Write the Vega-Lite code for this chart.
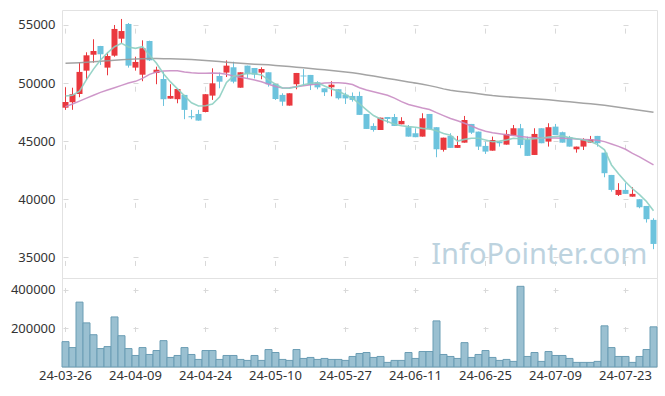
{
"$schema": "https://vega.github.io/schema/vega-lite/v6.json",
"padding": {"left": 5, "top": 9, "right": 9, "bottom": 0},
"spacing": 0,
"bounds": "flush",
"config": {"view": {"stroke": "#e2e2e2"}, "font": "Noto Sans", "axis": {"labelFont": "Noto Sans", "labelFontSize": 13, "labelColor": "#333333", "gridColor": "#d9d9d9"}},
"datasets": {"k": [
{"d":"24-03-26","o":47880,"c":48370,"h":49640,"l":47690,"v":131600,"m5":48890,"m20":47970,"m60":51700},
{"d":"24-03-27","o":48350,"c":49040,"h":49600,"l":47700,"v":100900,"m5":48950,"m20":48200,"m60":51730},
{"d":"24-03-28","o":49060,"c":50960,"h":51790,"l":48780,"v":336800,"m5":49300,"m20":48450,"m60":51760},
{"d":"24-03-29","o":51070,"c":52390,"h":52650,"l":50270,"v":229000,"m5":50300,"m20":48700,"m60":51800},
{"d":"24-04-01","o":52440,"c":52760,"h":53770,"l":51760,"v":167500,"m5":51200,"m20":48950,"m60":51840},
{"d":"24-04-02","o":53190,"c":52480,"h":53200,"l":51560,"v":95700,"m5":51990,"m20":49200,"m60":51880},
{"d":"24-04-03","o":51330,"c":52330,"h":52650,"l":50670,"v":106000,"m5":52600,"m20":49400,"m60":51920},
{"d":"24-04-04","o":52360,"c":54660,"h":55000,"l":52270,"v":259800,"m5":53130,"m20":49600,"m60":51960},
{"d":"24-04-05","o":53820,"c":54480,"h":55520,"l":53430,"v":162400,"m5":53420,"m20":49800,"m60":52000},
{"d":"24-04-08","o":55090,"c":51500,"h":55170,"l":51330,"v":95700,"m5":53100,"m20":50000,"m60":52040},
{"d":"24-04-09","o":51330,"c":51820,"h":52270,"l":51070,"v":59800,"m5":52990,"m20":50150,"m60":52070},
{"d":"24-04-11","o":50720,"c":53000,"h":53680,"l":50160,"v":100900,"m5":53130,"m20":50400,"m60":52100},
{"d":"24-04-12","o":53620,"c":51960,"h":53650,"l":51900,"v":65000,"m5":52400,"m20":50750,"m60":52110},
{"d":"24-04-15","o":50870,"c":51150,"h":51410,"l":49900,"v":85500,"m5":51700,"m20":50950,"m60":52110},
{"d":"24-04-16","o":50350,"c":48610,"h":50980,"l":48030,"v":136800,"m5":50800,"m20":51030,"m60":52100},
{"d":"24-04-17","o":48660,"c":48890,"h":49900,"l":48650,"v":49600,"m5":50100,"m20":51060,"m60":52090},
{"d":"24-04-18","o":48610,"c":49490,"h":49500,"l":48260,"v":59800,"m5":49500,"m20":51050,"m60":52070},
{"d":"24-04-19","o":48980,"c":47690,"h":48980,"l":46890,"v":100900,"m5":48900,"m20":50950,"m60":52050},
{"d":"24-04-22","o":47150,"c":47050,"h":47690,"l":46890,"v":65000,"m5":48300,"m20":50880,"m60":52020},
{"d":"24-04-23","o":47340,"c":46770,"h":47690,"l":46760,"v":39300,"m5":48030,"m20":50850,"m60":51990},
{"d":"24-04-24","o":47510,"c":49040,"h":49050,"l":47480,"v":85500,"m5":48050,"m20":50850,"m60":51950},
{"d":"24-04-25","o":48920,"c":49980,"h":51270,"l":48550,"v":85500,"m5":48200,"m20":50860,"m60":51900},
{"d":"24-04-26","o":50610,"c":50120,"h":50900,"l":49550,"v":39300,"m5":48800,"m20":50840,"m60":51850},
{"d":"24-04-29","o":50900,"c":51500,"h":51950,"l":50520,"v":59800,"m5":50050,"m20":50750,"m60":51790},
{"d":"24-04-30","o":51360,"c":50120,"h":51840,"l":49980,"v":59800,"m5":50600,"m20":50600,"m60":51740},
{"d":"24-05-02","o":49600,"c":50930,"h":50930,"l":49600,"v":39300,"m5":50700,"m20":50500,"m60":51700},
{"d":"24-05-03","o":51500,"c":50760,"h":51500,"l":50410,"v":34200,"m5":50840,"m20":50400,"m60":51660},
{"d":"24-05-07","o":51300,"c":50730,"h":51300,"l":50400,"v":59800,"m5":50800,"m20":50270,"m60":51630},
{"d":"24-05-08","o":50900,"c":51210,"h":51360,"l":50330,"v":34200,"m5":50700,"m20":50120,"m60":51600},
{"d":"24-05-09","o":50930,"c":49900,"h":50930,"l":49690,"v":90600,"m5":50270,"m20":49900,"m60":51570},
{"d":"24-05-10","o":49920,"c":48630,"h":49920,"l":48545,"v":75200,"m5":49900,"m20":49700,"m60":51520},
{"d":"24-05-13","o":48980,"c":48400,"h":49120,"l":48040,"v":39300,"m5":49580,"m20":49570,"m60":51470},
{"d":"24-05-14","o":48060,"c":49120,"h":49120,"l":48060,"v":34200,"m5":49550,"m20":49600,"m60":51420},
{"d":"24-05-16","o":49900,"c":50870,"h":50870,"l":49466,"v":90600,"m5":49680,"m20":49680,"m60":51370},
{"d":"24-05-17","o":50650,"c":50570,"h":51200,"l":49750,"v":44400,"m5":49850,"m20":49760,"m60":51320},
{"d":"24-05-20","o":50700,"c":49840,"h":50700,"l":49400,"v":49600,"m5":49990,"m20":49850,"m60":51260},
{"d":"24-05-21","o":50070,"c":49630,"h":50160,"l":49466,"v":39300,"m5":50030,"m20":49930,"m60":51200},
{"d":"24-05-22","o":49550,"c":49210,"h":49550,"l":48890,"v":44400,"m5":49750,"m20":50000,"m60":51140},
{"d":"24-05-23","o":49640,"c":49860,"h":50160,"l":48860,"v":39300,"m5":49500,"m20":50030,"m60":51080},
{"d":"24-05-24","o":49470,"c":48690,"h":49470,"l":48580,"v":39300,"m5":49300,"m20":50020,"m60":51010},
{"d":"24-05-27","o":49000,"c":48680,"h":49190,"l":48200,"v":34200,"m5":49000,"m20":49980,"m60":50950},
{"d":"24-05-28","o":48890,"c":48550,"h":49190,"l":48400,"v":54700,"m5":48700,"m20":49870,"m60":50890},
{"d":"24-05-29","o":48890,"c":47260,"h":49260,"l":47260,"v":70100,"m5":48200,"m20":49600,"m60":50800},
{"d":"24-05-30","o":47340,"c":46050,"h":47340,"l":46050,"v":75200,"m5":47700,"m20":49400,"m60":50700},
{"d":"24-05-31","o":46310,"c":45960,"h":46540,"l":45820,"v":49600,"m5":47200,"m20":49250,"m60":50600},
{"d":"24-06-03","o":45960,"c":47020,"h":47020,"l":45960,"v":54700,"m5":46900,"m20":49100,"m60":50500},
{"d":"24-06-04","o":47080,"c":46910,"h":47080,"l":46540,"v":23900,"m5":46700,"m20":48950,"m60":50400},
{"d":"24-06-05","o":47080,"c":46310,"h":47340,"l":46310,"v":34200,"m5":46450,"m20":48700,"m60":50300},
{"d":"24-06-07","o":46450,"c":46740,"h":47060,"l":46450,"v":34200,"m5":46320,"m20":48400,"m60":50200},
{"d":"24-06-10","o":46200,"c":45390,"h":46390,"l":45390,"v":75200,"m5":46250,"m20":48150,"m60":50100},
{"d":"24-06-11","o":45680,"c":45340,"h":46110,"l":45340,"v":44400,"m5":46200,"m20":48000,"m60":50000},
{"d":"24-06-12","o":45390,"c":46970,"h":47400,"l":45390,"v":80300,"m5":46100,"m20":47850,"m60":49900},
{"d":"24-06-13","o":47340,"c":46020,"h":47340,"l":46020,"v":80300,"m5":46050,"m20":47720,"m60":49780},
{"d":"24-06-14","o":46200,"c":44300,"h":46200,"l":43615,"v":239300,"m5":45900,"m20":47450,"m60":49650},
{"d":"24-06-17","o":44250,"c":45300,"h":45300,"l":44100,"v":65000,"m5":45650,"m20":47200,"m60":49500},
{"d":"24-06-18","o":45450,"c":44420,"h":45680,"l":44420,"v":54700,"m5":45500,"m20":46950,"m60":49380},
{"d":"24-06-19","o":44420,"c":44670,"h":45450,"l":44420,"v":44400,"m5":45000,"m20":46750,"m60":49300},
{"d":"24-06-20","o":44870,"c":46820,"h":47170,"l":44870,"v":126500,"m5":45150,"m20":46540,"m60":49230},
{"d":"24-06-21","o":46480,"c":45730,"h":46480,"l":45620,"v":49600,"m5":45250,"m20":46300,"m60":49160},
{"d":"24-06-24","o":45820,"c":44530,"h":45820,"l":44240,"v":65000,"m5":45250,"m20":46050,"m60":49080},
{"d":"24-06-25","o":44590,"c":44100,"h":44960,"l":43900,"v":85500,"m5":45100,"m20":45850,"m60":49000},
{"d":"24-06-26","o":44180,"c":45100,"h":45390,"l":44180,"v":49600,"m5":44950,"m20":45720,"m60":48920},
{"d":"24-06-27","o":44960,"c":44820,"h":44960,"l":44530,"v":34200,"m5":45000,"m20":45630,"m60":48870},
{"d":"24-06-28","o":44700,"c":45620,"h":45960,"l":44700,"v":39300,"m5":45100,"m20":45550,"m60":48820},
{"d":"24-07-01","o":45470,"c":46110,"h":46390,"l":45470,"v":29100,"m5":45250,"m20":45480,"m60":48780},
{"d":"24-07-02","o":46110,"c":44670,"h":46480,"l":44390,"v":418800,"m5":45200,"m20":45400,"m60":48740},
{"d":"24-07-03","o":45100,"c":43730,"h":45390,"l":43730,"v":54700,"m5":45150,"m20":45330,"m60":48700},
{"d":"24-07-04","o":43810,"c":45620,"h":46110,"l":43810,"v":75200,"m5":45200,"m20":45300,"m60":48660},
{"d":"24-07-05","o":46110,"c":44820,"h":46110,"l":44820,"v":29100,"m5":45250,"m20":45280,"m60":48610},
{"d":"24-07-08","o":44960,"c":46200,"h":46540,"l":44530,"v":80300,"m5":45350,"m20":45270,"m60":48560},
{"d":"24-07-09","o":46250,"c":45530,"h":46480,"l":45530,"v":59800,"m5":45400,"m20":45260,"m60":48500},
{"d":"24-07-10","o":45770,"c":44870,"h":45820,"l":44870,"v":59800,"m5":45450,"m20":45250,"m60":48440},
{"d":"24-07-11","o":45340,"c":44530,"h":45450,"l":44530,"v":44400,"m5":45300,"m20":45220,"m60":48390},
{"d":"24-07-12","o":44300,"c":44530,"h":44530,"l":44010,"v":23900,"m5":45200,"m20":45180,"m60":48330},
{"d":"24-07-15","o":44530,"c":45160,"h":45250,"l":44240,"v":23900,"m5":45100,"m20":45150,"m60":48270},
{"d":"24-07-16","o":44870,"c":45160,"h":45450,"l":44870,"v":23900,"m5":44960,"m20":45120,"m60":48210},
{"d":"24-07-17","o":45450,"c":44820,"h":45450,"l":44530,"v":29100,"m5":44700,"m20":45080,"m60":48150},
{"d":"24-07-18","o":44010,"c":42240,"h":44010,"l":41890,"v":213700,"m5":44250,"m20":44960,"m60":48080},
{"d":"24-07-19","o":42090,"c":40800,"h":42090,"l":40650,"v":100900,"m5":42950,"m20":44750,"m60":48000},
{"d":"24-07-22","o":40370,"c":40800,"h":41380,"l":40280,"v":54700,"m5":42200,"m20":44550,"m60":47920},
{"d":"24-07-23","o":40800,"c":40460,"h":41380,"l":40460,"v":54700,"m5":41500,"m20":44300,"m60":47840},
{"d":"24-07-24","o":40220,"c":40460,"h":41030,"l":40220,"v":23900,"m5":40900,"m20":43950,"m60":47750},
{"d":"24-07-25","o":40000,"c":39310,"h":40000,"l":39220,"v":54700,"m5":40400,"m20":43650,"m60":47660},
{"d":"24-07-26","o":39420,"c":38280,"h":39420,"l":37990,"v":90600,"m5":39800,"m20":43300,"m60":47580},
{"d":"24-07-29","o":38220,"c":36150,"h":38360,"l":35700,"v":208500,"m5":39000,"m20":42950,"m60":47480}
]},
"vconcat": [
{
"width": 595, "height": 268,
"data": {"name": "k"},
"encoding": {"x": {"field": "d", "type": "ordinal", "scale": {"paddingInner": 0, "paddingOuter": 0},
  "axis": {"orient": "top", "title": null, "labels": false, "ticks": false, "domain": false, "grid": true, "bandPosition": 0.5, "minExtent": 0, "maxExtent": 0, "offset": 0,
    "values": ["24-03-26","24-04-09","24-04-24","24-05-10","24-05-27","24-06-11","24-06-25","24-07-09","24-07-23"],
    "gridDash": [5, 53.1], "gridDashOffset": 45.6}}},
"layer": [
 {"data": {"values": [{}]}, "mark": {"type": "text", "align": "right", "baseline": "alphabetic", "fontSize": 29, "font": "Noto Sans", "color": "#bdd3df", "dx": -6},
  "encoding": {"x": {"datum": "24-07-29", "type": "ordinal"}, "y": {"datum": 34400, "type": "quantitative"}, "text": {"value": "InfoPointer.com"}}},
 {"mark": {"type": "rule", "strokeWidth": 1},
  "encoding": {"y": {"field": "l", "type": "quantitative", "scale": {"domain": [33217, 56291], "nice": false, "zero": false},
     "axis": {"title": null, "values": [35000, 40000, 45000, 50000, 55000], "format": "d", "domain": false, "ticks": false, "labelPadding": 7, "minExtent": 56, "maxExtent": 56, "grid": true, "gridDash": [5, 65], "gridDashOffset": 69}},
   "y2": {"field": "h"},
   "color": {"condition": {"test": "datum.c >= datum.o", "value": "#ea383e"}, "value": "#6cc3dd"}}},
 {"mark": {"type": "bar", "width": 6},
  "encoding": {"y": {"field": "o", "type": "quantitative", "axis": {"title": null}}, "y2": {"field": "c"},
   "color": {"condition": {"test": "datum.c >= datum.o", "value": "#ea383e"}, "value": "#6cc3dd"}}},
 {"mark": {"type": "line", "color": "#9a9a9a", "strokeWidth": 1.5, "opacity": 0.9},
  "encoding": {"y": {"field": "m60", "type": "quantitative", "axis": {"title": null}}}},
 {"mark": {"type": "line", "color": "#c98cc3", "strokeWidth": 1.5, "opacity": 0.9},
  "encoding": {"y": {"field": "m20", "type": "quantitative", "axis": {"title": null}}}},
 {"mark": {"type": "line", "color": "#8dcfc2", "strokeWidth": 1.6, "opacity": 0.9},
  "encoding": {"y": {"field": "m5", "type": "quantitative", "axis": {"title": null}}}}
]
},
{
"width": 595, "height": 89,
"data": {"name": "k"},
"mark": {"type": "bar", "width": {"band": 1}, "fill": "#9ac0d1", "stroke": "#6b9db4", "strokeWidth": 1},
"encoding": {
 "x": {"field": "d", "type": "ordinal", "scale": {"paddingInner": 0, "paddingOuter": 0},
  "axis": {"title": null, "labelAngle": 0, "ticks": false, "domain": false, "labelPadding": 2, "grid": true, "bandPosition": 0.5,
   "values": ["24-03-26","24-04-09","24-04-24","24-05-10","24-05-27","24-06-11","24-06-25","24-07-09","24-07-23"],
   "gridDash": [5, 34], "gridDashOffset": 29.5}},
 "y": {"field": "v", "type": "quantitative", "scale": {"domain": [0, 462000], "nice": false},
  "axis": {"title": null, "values": [200000, 400000], "format": "d", "domain": false, "ticks": false, "labelPadding": 7, "minExtent": 56, "maxExtent": 56, "grid": true, "gridDash": [5, 65], "gridDashOffset": 69}}
}
}
]
}
